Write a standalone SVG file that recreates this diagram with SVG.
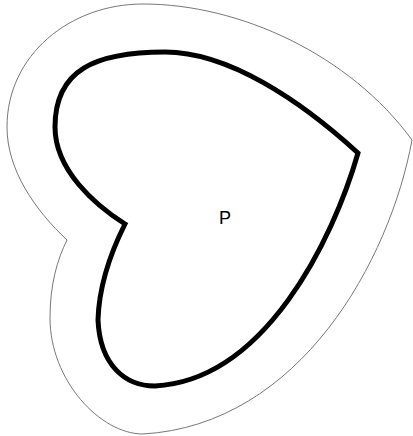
<svg xmlns="http://www.w3.org/2000/svg" width="413" height="436" viewBox="0 0 413 436">
<style>
.outer{fill:none;stroke:#777;stroke-width:1}
.inner{fill:none;stroke:#000;stroke-width:5;stroke-linejoin:miter}
.lbl{font-family:"Liberation Sans",Arial,sans-serif;font-size:18px;fill:#000}
</style>
<rect width="413" height="436" fill="#fff"/>
<g id="offset">
<path class="outer" d="M67,240 C35,210 7,170 7,127 C7,55 70,4 143,4 C240,4 350,55 412,140 C390,260 300,425 143,434 C100,434 50,380 50,318 C50,285 57,260 67,240 Z"/>
</g>
<g id="heart">
<path class="inner" d="M125,224 C95,205 55,170 55,127 C55,70 95,52 165,52 C228,52 300,100 358,153 C333,240 265,380 155,386 C125,386 100,365 98,320 C99,285 112,250 125,224 Z"/>
</g>
<g id="label">
<text class="lbl" x="225" y="224" text-anchor="middle">P</text>
</g>
</svg>
